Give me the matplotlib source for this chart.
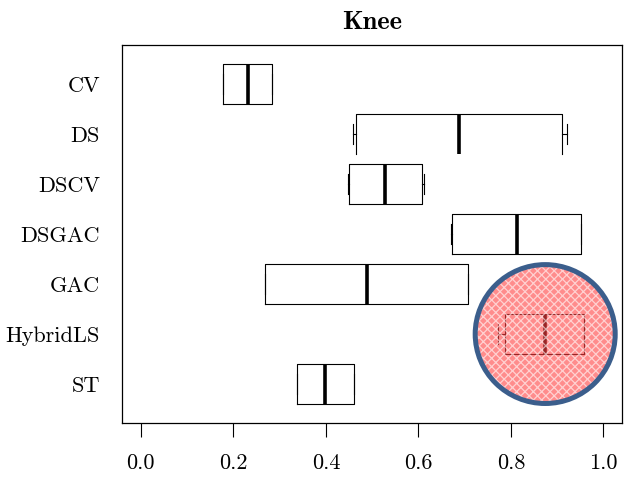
import matplotlib
matplotlib.use('Agg')
import matplotlib.pyplot as plt
from matplotlib.patches import Ellipse

# Knee scores per method
methods = ['CV', 'DS', 'DSCV', 'DSGAC', 'GAC', 'HybridLS', 'ST']
q1 = [0.178, 0.466, 0.451, 0.672, 0.268, 0.787, 0.337]
medians = [0.231, 0.687, 0.528, 0.813, 0.488, 0.874, 0.399]
q3 = [0.284, 0.910, 0.608, 0.952, 0.708, 0.958, 0.461]
whis_lo = [0.178, 0.458, 0.448, 0.670, 0.268, 0.771, 0.337]
whis_hi = [0.284, 0.921, 0.611, 0.952, 0.708, 0.958, 0.461]
x_ticks = [0.0, 0.2, 0.4, 0.6, 0.8, 1.0]
highlight = 'HybridLS'

plt.rcParams['font.family'] = ['cmr10', 'DejaVu Serif']
plt.rcParams['axes.unicode_minus'] = False
plt.rcParams['hatch.linewidth'] = 0.9

fig = plt.figure(figsize=(6.25, 4.8), dpi=100)
ax = fig.add_axes([0.1957, 0.1188, 0.7995, 0.7868])

# first method on top, like the reference
positions = list(range(len(methods), 0, -1))
stats = []
for i, name in enumerate(methods):
    stats.append({'label': name, 'med': medians[i], 'q1': q1[i], 'q3': q3[i],
                  'whislo': whis_lo[i], 'whishi': whis_hi[i], 'fliers': []})

bp = ax.bxp(stats, positions=positions, widths=0.8, capwidths=0.4,
            orientation='horizontal', showfliers=False, patch_artist=False,
            boxprops=dict(color='black', linewidth=0.8),
            whiskerprops=dict(color='black', linewidth=0.8, linestyle='-'),
            capprops=dict(color='black', linewidth=0.8),
            medianprops=dict(color='black', linewidth=2.6))

# the DS box is drawn without its bottom edge in the reference
ds = bp['boxes'][methods.index('DS')]
xs, ys = ds.get_data()
ds.set_data(xs[:-1], ys[:-1])

# circle over the highlighted method
k = methods.index(highlight)
ring_fill = Ellipse((medians[k], positions[k]), width=0.3026, height=2.78,
                    facecolor='#ff4040', alpha=0.6, hatch='xxxx',
                    edgecolor='white', linewidth=0, zorder=5)
ring = Ellipse((medians[k], positions[k]), width=0.3026, height=2.78,
               fill=False, edgecolor='#3b5e8c', linewidth=3.6, zorder=6)
ax.add_patch(ring_fill)
ax.add_patch(ring)

ax.set_xlim(-0.04, 1.04)
ax.set_ylim(0.22, 7.78)
ax.set_xticks(x_ticks)
ax.set_xticklabels([f'{t:.1f}' for t in x_ticks])
ax.set_yticks(positions)
ax.set_yticklabels(methods)
ax.tick_params(axis='x', length=10, width=0.8, pad=12, labelsize=16)
ax.tick_params(axis='y', length=0, pad=16, labelsize=16)
for s in ax.spines.values():
    s.set_linewidth(0.9)

ax.set_title('Knee', fontsize=19, fontfamily='cmb10', pad=12)

fig.savefig('out.png', dpi=100)
